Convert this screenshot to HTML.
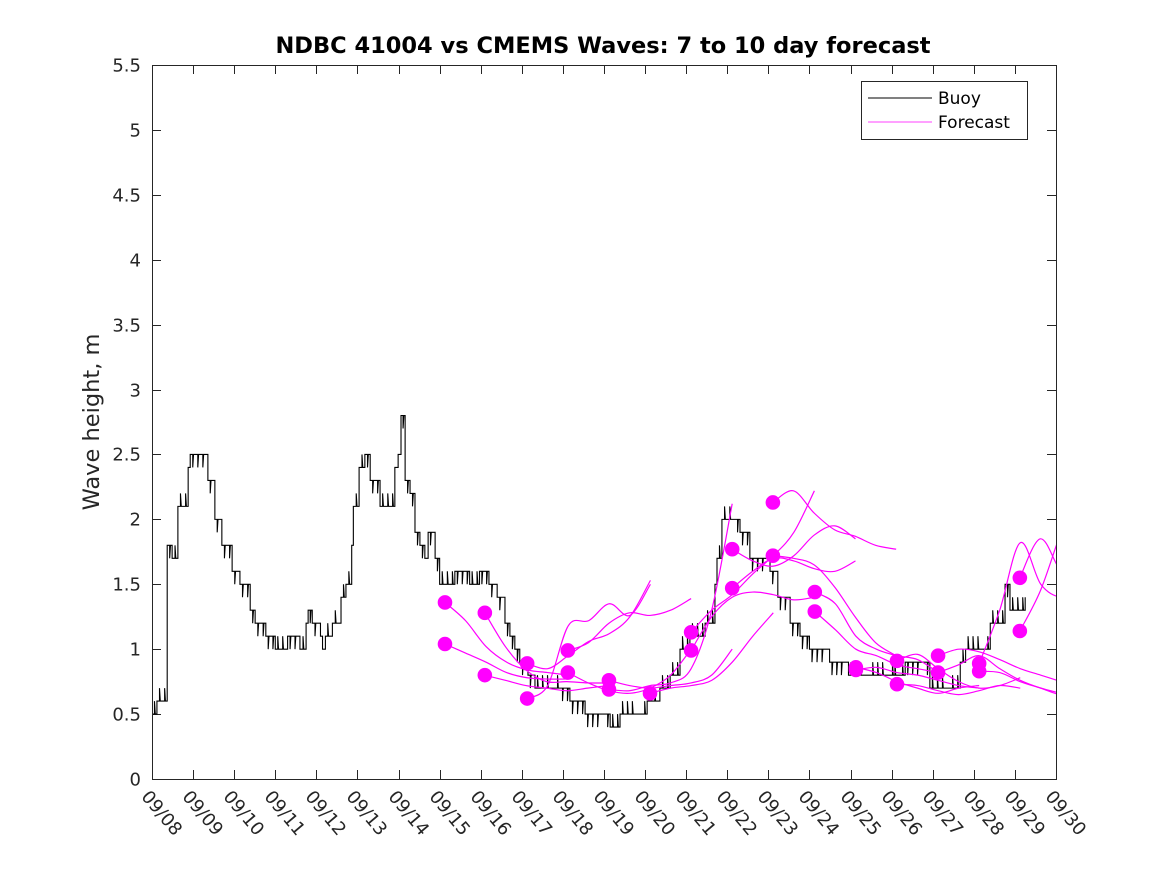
<!DOCTYPE html>
<html><head><meta charset="utf-8"><style>
body{margin:0;background:#fff;}
svg{display:block;font-family:"DejaVu Sans","Liberation Sans",sans-serif;}
</style></head><body>
<svg id="chart" width="1167" height="875" viewBox="0 0 1167 875" xmlns="http://www.w3.org/2000/svg">
<rect width="1167" height="875" fill="#fff"/>
<defs><clipPath id="plotclip"><rect x="152" y="65" width="904" height="714"/></clipPath></defs>
<text x="603" y="53" text-anchor="middle" font-size="22.5" font-weight="bold" fill="#000">NDBC 41004 vs CMEMS Waves: 7 to 10 day forecast</text>
<text transform="translate(99,422) rotate(-90)" text-anchor="middle" font-size="22.5" fill="#262626">Wave height, m</text>
<g id="ticks"></g>
<g id="series" clip-path="url(#plotclip)"></g>
<rect x="152.5" y="65.5" width="904" height="714" fill="none" stroke="#262626" stroke-width="1"/>
<g>
<rect x="861.5" y="81.5" width="166" height="58" fill="#fff" stroke="#262626"/>
<line x1="868" y1="98" x2="932" y2="98" stroke="#000"/>
<text x="938" y="104" font-size="17" fill="#000">Buoy</text>
<line x1="868" y1="122" x2="932" y2="122" stroke="#f0f" stroke-width="0.8"/>
<text x="938" y="128" font-size="17" fill="#000">Forecast</text>
</g>
</svg>
<script>
const xTickLabels=["09/08","09/09","09/10","09/11","09/12","09/13","09/14","09/15","09/16","09/17","09/18","09/19","09/20","09/21","09/22","09/23","09/24","09/25","09/26","09/27","09/28","09/29","09/30"];
const yTicks=[0,0.5,1,1.5,2,2.5,3,3.5,4,4.5,5,5.5];
const buoyDays=[0,0.12,0.37,0.49,0.63,0.88,0.93,1.36,1.53,1.7,1.95,2.14,2.39,2.51,2.77,3.0,3.3,3.6,3.75,3.8,3.9,4.1,4.15,4.22,4.39,4.6,4.72,4.86,4.9,5.04,5.18,5.31,5.55,5.8,5.91,5.99,6.06,6.16,6.28,6.4,6.52,6.64,6.72,6.89,7.0,7.25,7.37,7.73,7.97,8.2,8.4,8.59,8.71,8.83,8.95,9.15,9.32,9.93,10.17,10.54,11.15,11.39,11.93,12.05,12.36,12.61,12.85,13.09,13.46,13.7,13.75,13.87,14.19,14.31,14.55,15.04,15.23,15.53,15.77,16.0,16.49,16.95,17.48,18.2,18.33,18.93,19.42,19.67,19.8,20.28,20.4,20.76,20.88,21.13,21.25];
const buoyVals=[0.5,0.6,1.8,1.7,2.1,2.4,2.5,2.3,2.0,1.8,1.6,1.5,1.3,1.2,1.1,1.0,1.1,1.0,1.2,1.3,1.2,1.1,1.0,1.1,1.2,1.4,1.5,1.8,2.1,2.4,2.5,2.3,2.1,2.1,2.4,2.5,2.8,2.3,2.2,1.9,1.8,1.7,1.9,1.7,1.5,1.5,1.6,1.5,1.6,1.5,1.4,1.2,1.1,1.0,0.9,0.8,0.7,0.7,0.6,0.5,0.4,0.5,0.5,0.6,0.7,0.8,1.0,1.1,1.2,1.5,1.7,2.0,2.0,1.9,1.7,1.6,1.4,1.2,1.1,1.0,0.9,0.8,0.8,0.8,0.9,0.7,0.7,0.9,1.0,1.0,1.2,1.5,1.3,1.3,1.4];
const fcStarts=[7.13,7.13,8.10,8.10,9.13,9.13,10.12,10.12,11.12,11.12,12.12,13.12,13.12,14.12,14.12,15.11,15.11,16.13,16.13,17.13,17.13,18.13,18.13,19.13,19.13,20.13,20.13,21.12,21.12];
const fcVals=[
[1.36,1.22,1.02,0.90,0.84,0.82,0.80],
[1.04,0.97,0.90,0.82,0.78,0.77,0.77],
[1.28,1.02,0.84,0.75,0.75,0.74,0.74],
[0.80,0.76,0.72,0.70,0.68,0.70,0.72],
[0.89,0.85,0.95,1.06,1.12,1.25,1.53],
[0.62,0.72,1.18,1.22,1.35,1.26,1.50],
[0.99,1.05,1.20,1.28,1.26,1.30,1.39],
[0.82,0.74,0.68,0.66,0.70,0.80,1.0],
[0.76,0.72,0.70,0.72,0.74,0.80,1.00],
[0.69,0.68,0.72,0.74,0.85,1.30,2.12],
[0.66,0.70,0.72,0.76,0.90,1.10,1.28],
[1.13,1.30,1.42,1.58,1.72,1.90,2.22],
[0.99,1.25,1.40,1.44,1.42,1.38,1.40],
[1.77,1.68,1.64,1.72,1.88,1.95,1.85],
[1.47,1.60,1.70,1.68,1.62,1.60,1.68],
[2.13,2.22,2.05,1.92,1.87,1.80,1.77],
[1.72,1.70,1.65,1.48,1.25,1.05,0.95],
[1.44,1.35,1.10,1.00,0.95,0.92,0.82],
[1.29,1.15,1.00,0.95,0.88,0.85,0.82],
[0.86,0.82,0.75,0.70,0.66,0.70,0.72],
[0.84,0.86,0.82,0.80,0.76,0.72,0.70],
[0.91,0.96,0.85,0.75,0.70,0.72,0.78],
[0.73,0.72,0.68,0.65,0.68,0.72,0.70],
[0.95,1.00,0.98,0.92,0.85,0.80,0.75],
[0.82,0.88,0.95,0.85,0.76,0.70,0.66],
[0.89,1.30,1.82,1.50,1.40,1.45,1.45],
[0.83,0.82,0.75,0.70,0.65,0.68,0.66],
[1.55,1.85,1.60,1.50,1.45,1.45,1.45],
[1.14,1.45,1.90,2.30,2.50,2.60,2.60]];
const fcStep=0.5;
const NS="http://www.w3.org/2000/svg";
const X0=152,X1=1056,Y0=779,Y1=65,DMAX=22,VMAX=5.5;
function xs(d){return X0+(X1-X0)*d/DMAX;}
function ys(v){return Y0-(Y0-Y1)*v/VMAX;}
function mk(tag,attrs,parent){const e=document.createElementNS(NS,tag);for(const k in attrs)e.setAttribute(k,attrs[k]);parent.appendChild(e);return e;}
const tk=document.getElementById('ticks');
yTicks.forEach(v=>{
  const y=Math.round(ys(v))+0.5;
  const l=mk('path',{d:`M${X0} ${y}h9M${X1} ${y}h-9`,stroke:'#262626'},tk);
  
  
  const t=mk('text',{x:141,y:y+6,'text-anchor':'end','font-size':18,fill:'#262626'},tk);
  t.textContent=String(v);
  
  
});
xTickLabels.forEach((lab,i)=>{
  const x=Math.round(xs(i))+0.5;
  const l=mk('path',{d:`M${x} ${Y0}v-9M${x} ${Y1}v9`,stroke:'#262626'},tk);
  
  
  const t=mk('text',{transform:`translate(${x-12},${Y0+18}) rotate(50)`,'font-size':18,fill:'#262626'},tk);
  t.textContent=lab;
  
  
});
const sg=document.getElementById('series');
let d='';
buoyDays.forEach((dd,i)=>{
  const x=xs(dd),y=ys(buoyVals[i]);
  if(i===0)d+=`M${x} ${y}`;
  else{
    const px=xs(buoyDays[i-1]);
    const v0=buoyVals[i-1];
    const n=Math.max(1,Math.round((x-px)/2.5));
    for(let k=1;k<n;k++){
      const xx=px+(x-px)*k/n;
      const alt=(k%4===1||k%7===3)?(buoyVals[i]>=v0?0.1:-0.1):0;
      d+=`L${xx} ${ys(v0)}L${xx} ${ys(v0+alt)}L${xx+0.8} ${ys(v0)}`;
    }
    d+=`L${x} ${ys(v0)}L${x} ${y}`;
  }
});
const bl=mk('path',{d:d,fill:'none',stroke:'#000','stroke-width':1.1},sg);


fcStarts.forEach((s,i)=>{
  const pts=fcVals[i].map((v,j)=>[xs(s+j*fcStep),ys(v)]);
  let p=`M${pts[0][0]} ${pts[0][1]}`;
  for(let j=0;j<pts.length-1;j++){
    const p0=pts[Math.max(0,j-1)],p1=pts[j],p2=pts[j+1],p3=pts[Math.min(pts.length-1,j+2)];
    const c1=[p1[0]+(p2[0]-p0[0])/6,p1[1]+(p2[1]-p0[1])/6];
    const c2=[p2[0]-(p3[0]-p1[0])/6,p2[1]-(p3[1]-p1[1])/6];
    p+=`C${c1[0]} ${c1[1]} ${c2[0]} ${c2[1]} ${p2[0]} ${p2[1]}`;
  }
  const fl=mk('path',{d:p,fill:'none',stroke:'#f0f','stroke-width':1.2},sg);
  
  
});
fcStarts.forEach((s,i)=>{
  const c=mk('circle',{cx:xs(s),cy:ys(fcVals[i][0]),r:7.3,fill:'#f0f'},sg);
  
  
});
</script>
</body></html>
